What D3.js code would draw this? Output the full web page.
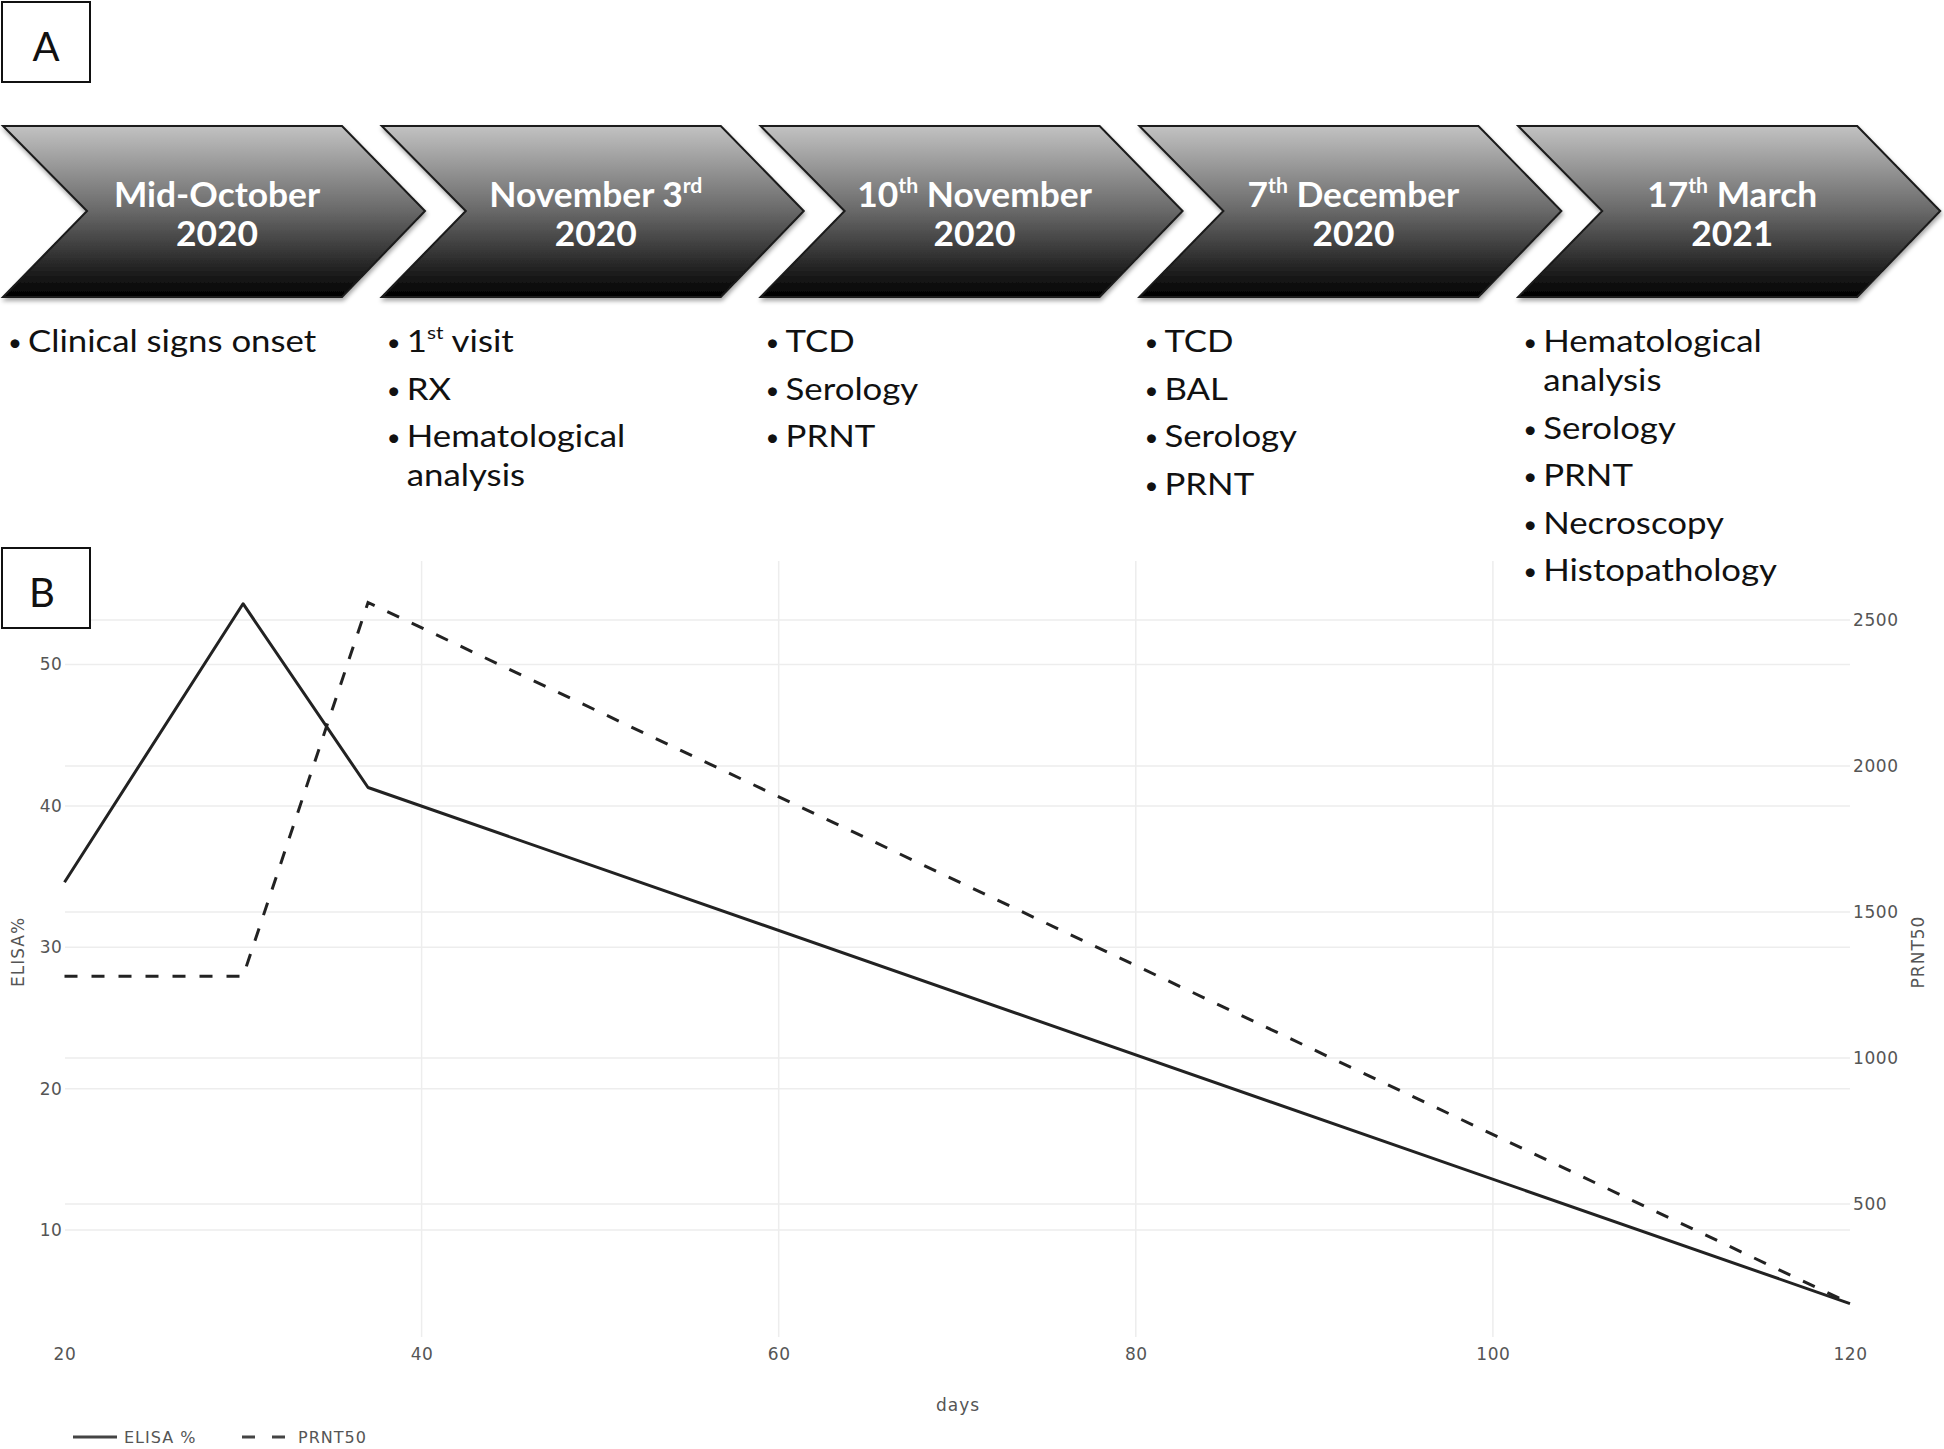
<!DOCTYPE html>
<html>
<head>
<meta charset="utf-8">
<style>
  body { margin: 0; background: #fff; }
  svg { display: block; }
</style>
</head>
<body>
<svg id="fig" width="1944" height="1449"></svg>
<script src="https://d3js.org/d3.v7.min.js"></script>
<script>
// ---- panel A: timeline ----
const eventDates = ["Mid-October", "November 3{rd}", "10{th} November", "7{th} December", "17{th} March"];
const eventYears = ["2020", "2020", "2020", "2020", "2021"];
const eventTasks = [
    ["Clinical signs onset"],
    ["1{st} visit", "RX", "Hematological analysis"],
    ["TCD", "Serology", "PRNT"],
    ["TCD", "BAL", "Serology", "PRNT"],
    ["Hematological analysis", "Serology", "PRNT", "Necroscopy", "Histopathology"]
];

// ---- panel B: serology ----
const days = [20, 30, 37, 120];
const elisaPct = [34.6, 54.3, 41.3, 4.8];
const prnt50 = [1280, 1280, 2560, 160];
const xTicks = [20, 40, 60, 80, 100, 120];
const elisaTicks = [10, 20, 30, 40, 50];
const prntTicks = [500, 1000, 1500, 2000, 2500];
const seriesNames = ["ELISA %", "PRNT50"];

var svg = d3.select("#fig");
var defs = svg.append("defs");

var grad = defs.append("linearGradient").attr("id", "chev").attr("x1", 0).attr("y1", 0).attr("x2", 0).attr("y2", 1);
grad.append("stop").attr("offset", "0%").attr("stop-color", "#c2c2c2");
grad.append("stop").attr("offset", "50%").attr("stop-color", "#686868");
grad.append("stop").attr("offset", "100%").attr("stop-color", "#000");

var shadow = defs.append("filter").attr("id", "shadow").attr("x", "-5%").attr("y", "-5%").attr("width", "115%").attr("height", "120%");
shadow.append("feDropShadow").attr("dx", 1).attr("dy", 3).attr("stdDeviation", 2)
    .attr("flood-color", "#000").attr("flood-opacity", 0.35);

// text with {sup} parts
function richText(sel, str, size) {
    var shift = size * 0.42, back = 0;
    str.split(/(\{[^}]*\})/).forEach(function (part) {
        if (!part) return;
        if (part[0] === "{") {
            sel.append("tspan").attr("dy", -shift).style("font-size", (size * 0.6) + "px").text(part.slice(1, -1));
            back = shift;
        } else {
            sel.append("tspan").attr("dy", back).text(part);
            back = 0;
        }
    });
    return sel;
}

// stretched text (the figure is a bit wider than tall)
function sText(parent, x, y, sx) {
    return parent.append("g").attr("transform", "translate(" + x + "," + y + ") scale(" + sx + ",1)")
        .append("text");
}

// letter boxes
function letterBox(label, y0, cx) {
    svg.append("rect").attr("x", 2).attr("y", y0).attr("width", 88).attr("height", 80)
        .attr("fill", "#fff").attr("stroke", "#111").attr("stroke-width", 2);
    svg.append("text").attr("x", cx).attr("y", y0 + 59).attr("text-anchor", "middle")
        .style("font-family", "Lato").style("font-size", "40px").attr("fill", "#111").text(label);
}

// ---- chart B first so the timeline sits on top ----
var x = d3.scaleLinear().domain([20, 120]).range([64.5, 1850]);
var yL = d3.scaleLinear().domain([2.4, 57.3]).range([1337.5, 561.3]);
var yR = d3.scaleLinear().domain([43, 2701]).range([1337.5, 561.3]);

var grid = svg.append("g").attr("stroke", "#ededed").attr("stroke-width", 1.5);
grid.selectAll(".gl").data(elisaTicks).enter().append("line")
    .attr("x1", 65).attr("x2", 1850).attr("y1", d => yL(d)).attr("y2", d => yL(d));
grid.selectAll(".gr").data(prntTicks).enter().append("line")
    .attr("x1", 65).attr("x2", 1850).attr("y1", d => yR(d)).attr("y2", d => yR(d));
grid.selectAll(".gx").data(xTicks.slice(1, -1)).enter().append("line")
    .attr("x1", d => x(d)).attr("x2", d => x(d)).attr("y1", 561).attr("y2", 1337);

function styleAxis(g) {
    g.select(".domain").remove();
    g.selectAll("text").style("font-family", "DejaVu Sans").style("font-size", "17px")
        .style("letter-spacing", "0.6px").attr("fill", "#555");
}

svg.append("g").attr("transform", "translate(64.5,0)")
    .call(d3.axisLeft(yL).tickValues(elisaTicks).tickSize(0).tickPadding(2).tickFormat(d3.format("d")))
    .call(styleAxis);
svg.append("g").attr("transform", "translate(1850,0)")
    .call(d3.axisRight(yR).tickValues(prntTicks).tickSize(0).tickPadding(3).tickFormat(d3.format("d")))
    .call(styleAxis);
svg.append("g").attr("transform", "translate(0,1337.5)")
    .call(d3.axisBottom(x).tickValues(xTicks).tickSize(0).tickPadding(10).tickFormat(d3.format("d")))
    .call(styleAxis);

function axisTitle(txt, tx, ty, rot) {
    svg.append("text").attr("text-anchor", "middle")
        .attr("transform", "translate(" + tx + "," + ty + ")" + (rot ? " rotate(-90)" : ""))
        .style("font-family", "DejaVu Sans").style("font-size", "17px").style("letter-spacing", "1px")
        .attr("fill", "#555").text(txt);
}
axisTitle("days", 958, 1411, false);
axisTitle("ELISA%", 24, 952, true);
axisTitle("PRNT50", 1924, 952, true);

var pts = days.map((d, i) => ({ day: d, elisa: elisaPct[i], prnt: prnt50[i] }));

svg.append("path").datum(pts)
    .attr("d", d3.line().x(d => x(d.day)).y(d => yL(d.elisa)))
    .attr("fill", "none").attr("stroke", "#222").attr("stroke-width", 3).attr("stroke-linejoin", "round");
svg.append("path").datum(pts)
    .attr("d", d3.line().x(d => x(d.day)).y(d => yR(d.prnt)))
    .attr("fill", "none").attr("stroke", "#222").attr("stroke-width", 3).attr("stroke-dasharray", "13,14");

// legend
var leg = svg.append("g");
leg.append("line").attr("x1", 73).attr("x2", 117).attr("y1", 1437).attr("y2", 1437)
    .attr("stroke", "#444").attr("stroke-width", 3);
leg.append("line").attr("x1", 242).attr("x2", 286).attr("y1", 1437).attr("y2", 1437)
    .attr("stroke", "#444").attr("stroke-width", 3).attr("stroke-dasharray", "13,17");
leg.selectAll("text").data(seriesNames).enter().append("text")
    .attr("x", (d, i) => i === 0 ? 124 : 298).attr("y", 1443)
    .style("font-family", "DejaVu Sans").style("font-size", "16px").style("letter-spacing", "1px")
    .attr("fill", "#555").text(d => d);

// ---- panel A ----
var step = 378.8, chTop = 126, chBot = 297, chMid = 211;
var chev = svg.append("g");
eventDates.forEach(function (label, i) {
    var x0 = 3 + i * step;
    var g = chev.append("g");
    g.append("path")
        .attr("d", d3.line()([[x0, chTop], [x0 + 339, chTop], [x0 + 422, chMid], [x0 + 339, chBot], [x0, chBot], [x0 + 84, chMid]]) + "Z")
        .attr("fill", "url(#chev)").attr("stroke", "#1a1a1a").attr("stroke-width", 2)
        .attr("filter", "url(#shadow)");
    var t1 = sText(g, x0 + 214, 207, 1.04).attr("text-anchor", "middle")
        .style("font-family", "Lato").style("font-weight", "bold").style("font-size", "34px").attr("fill", "#fff");
    richText(t1, label, 34);
    sText(g, x0 + 214, 246, 1.04).attr("text-anchor", "middle")
        .style("font-family", "Lato").style("font-weight", "bold").style("font-size", "34px").attr("fill", "#fff")
        .text(eventYears[i]);

    // bullet list
    var y = 352, sx = 1.16, maxW = 330;
    eventTasks[i].forEach(function (item) {
        g.append("text").attr("x", x0 + 5).attr("y", y - 1)
            .style("font-family", "Lato").style("font-size", "24px").attr("fill", "#111").text("\u2022");
        var words = item.split(" "), line = [], lines = [];
        var probe = svg.append("text").style("font-family", "Lato").style("font-size", "30px");
        words.forEach(function (w) {
            var tryLine = line.concat([w]).join(" ");
            probe.text(tryLine.replace(/[{}]/g, ""));
            if (line.length && probe.node().getComputedTextLength() * sx > maxW) {
                lines.push(line.join(" "));
                line = [w];
            } else {
                line.push(w);
            }
        });
        lines.push(line.join(" "));
        probe.remove();
        lines.forEach(function (ln, k) {
            var t = sText(g, x0 + 25, y, sx).style("font-family", "Lato").style("font-size", "30px").attr("fill", "#111");
            richText(t, ln, 30);
            if (k < lines.length - 1) y += 39;
        });
        y += 47.5;
    });
});

letterBox("A", 2, 46);
letterBox("B", 548, 42);
</script>
</body>
</html>
